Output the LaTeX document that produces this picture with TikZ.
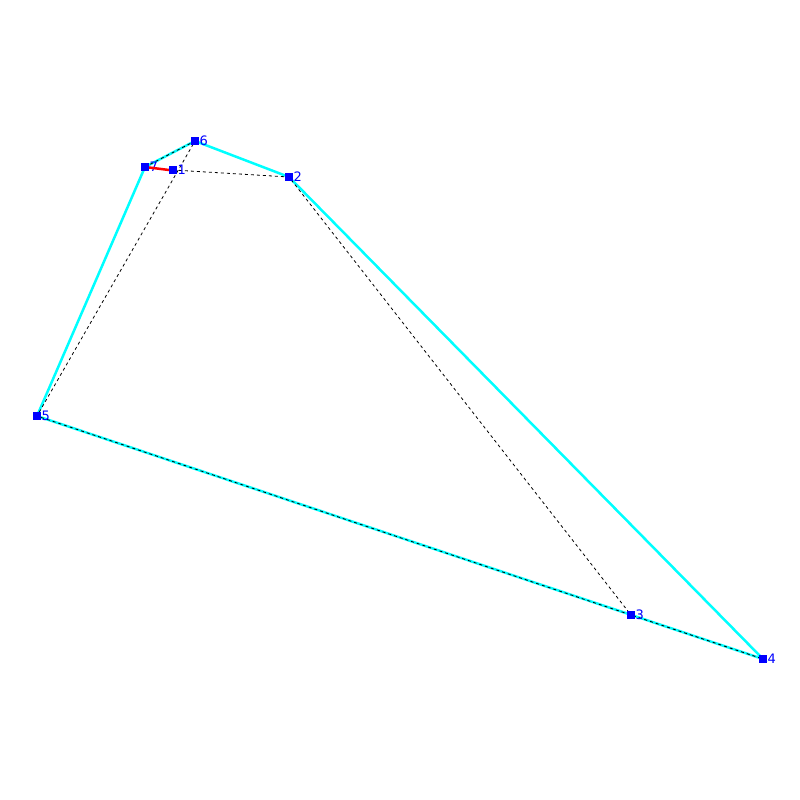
\documentclass[tikz,border=0pt]{standalone}
\usepackage{fontspec}
\setmainfont{DejaVu Sans}
\definecolor{aqua}{RGB}{0,255,255}
\definecolor{ptblue}{RGB}{0,0,255}
\definecolor{selred}{RGB}{255,0,0}
\begin{document}
\begin{tikzpicture}[x=1pt,y=-1pt,
  hull/.style={draw=aqua,line width=2.5pt},
  dsh/.style={draw=black,line width=0.8pt,dash pattern=on 3pt off 3pt},
  sel/.style={draw=selred,line width=2.5pt},
  pt/.style={fill=ptblue,minimum size=8pt,inner sep=0pt,outer sep=0pt},
  lbl/.style={text=ptblue,font=\fontsize{13}{13}\selectfont,inner sep=0pt,anchor=west}]
\useasboundingbox (0,0) rectangle (800,800);
\node[pt] (p1) at (173,170) {};
\node[pt] (p2) at (289,177) {};
\node[pt] (p3) at (631,615) {};
\node[pt] (p4) at (763,659) {};
\node[pt] (p5) at (37,416) {};
\node[pt] (p6) at (195,141) {};
\node[pt] (p7) at (145,167) {};
\draw[hull] (p5.center) -- (p7.center) -- (p6.center) -- (p2.center) -- (p4.center) -- (p5.center);
\draw[dsh] (p7.center) -- (p6.center) -- (p5.center) -- (p3.center) -- (p4.center);
\draw[dsh] (p1.center) -- (p2.center) -- (p3.center);
\foreach \n in {1,...,7} {\node[pt] at (p\n) {};}
\node[lbl] (l1) at ([xshift=4.5pt]p1.center) {1};
\node[lbl] (l2) at ([xshift=4.5pt]p2.center) {2};
\node[lbl] (l3) at ([xshift=4.5pt]p3.center) {3};
\node[lbl] (l4) at ([xshift=4.5pt]p4.center) {4};
\node[lbl] (l5) at ([xshift=4.5pt]p5.center) {5};
\node[lbl] (l6) at ([xshift=4.5pt]p6.center) {6};
\node[lbl] (l7) at ([xshift=4.5pt]p7.center) {7};
\draw[sel] (p7.center) -- (p1.west);
\node[pt] at (p1) {};
\node[pt] at (p7) {};
\end{tikzpicture}
\end{document}
